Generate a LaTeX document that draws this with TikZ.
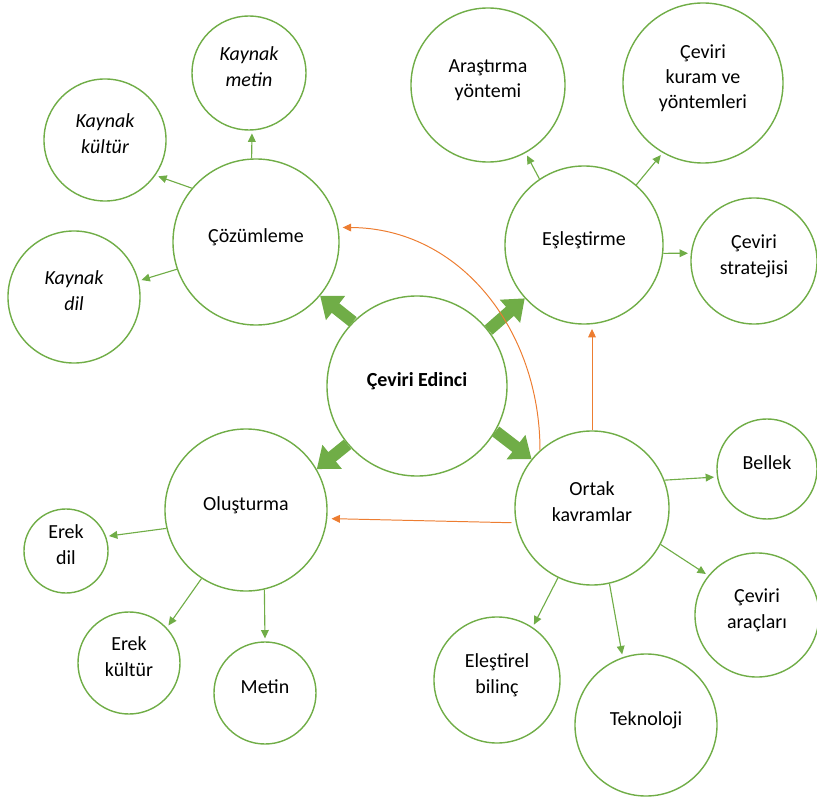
\documentclass[tikz,border=0pt]{standalone}
\usepackage{fontspec}
\setmainfont{Carlito}
\usetikzlibrary{arrows.meta}
\definecolor{grn}{HTML}{70AD47}
\definecolor{org}{HTML}{ED7D31}
\tikzset{
  bubble/.style={circle, draw=grn, line width=1pt, align=center, inner sep=0pt, text depth=9pt, font=\fontsize{14.2}{18}\selectfont},
  link/.style={draw=grn, line width=0.8pt, -{Triangle[length=6pt,width=5.5pt]}, shorten >=2pt},
  feedback/.style={draw=org, line width=0.7pt, -{Triangle[length=6pt,width=5.5pt]}, shorten >=3pt},
  push/.style={draw=grn, line width=8.6pt, -{Triangle[length=14pt,width=21pt]}}
}

\begin{document}
\begin{tikzpicture}[x=0.025cm, y=-0.025cm]
    \useasboundingbox (0,0) rectangle (817,801);
    \node (ed) [bubble, minimum size=4.5cm, font=\fontsize{14.2}{18}\selectfont\bfseries] at (417,386) {Çeviri Edinci};
    \node (coz) [bubble, minimum size=4.15cm] at (256,242) {Çözümleme};
    \node (kmetin) [bubble, minimum size=2.85cm, font=\fontsize{14.2}{18}\selectfont\itshape] at (249,73) {Kaynak\\metin};
    \node (kkultur) [bubble, minimum size=3.05cm, font=\fontsize{14.2}{18}\selectfont\itshape] at (105,140) {Kaynak\\kültür};
    \node (kdil) [bubble, minimum size=3.3cm, font=\fontsize{14.2}{18}\selectfont\itshape] at (74,297) {Kaynak\\dil};
    \node (esl) [bubble, minimum size=3.95cm] at (584,245) {Eşleştirme};
    \node (arastirma) [bubble, minimum size=3.85cm] at (488,85) {Araştırma\\yöntemi};
    \node (kuram) [bubble, minimum size=4cm] at (703,83) {Çeviri\\kuram ve\\yöntemleri};
    \node (strateji) [bubble, minimum size=3.15cm] at (754,261) {Çeviri\\stratejisi};
    \node (olus) [bubble, minimum size=4.05cm] at (246,510) {Oluşturma};
    \node (erekdil) [bubble, minimum size=2.1cm] at (66,551) {Erek\\dil};
    \node (erekkultur) [bubble, minimum size=2.55cm] at (129,663) {Erek\\kültür};
    \node (metin) [bubble, minimum size=2.55cm] at (265,693) {Metin};
    \node (ortak) [bubble, minimum size=3.85cm] at (592,508) {Ortak\\kavramlar};
    \node (bellek) [bubble, minimum size=2.5cm] at (767,469) {Bellek};
    \node (araclar) [bubble, minimum size=3.1cm] at (757,615) {Çeviri\\araçları};
    \node (elestirel) [bubble, minimum size=3.15cm] at (497,680) {Eleştirel\\bilinç};
    \node (teknoloji) [bubble, minimum size=3.55cm] at (646,725) {Teknoloji};

    \draw [push] (ed.135) -- (coz.-40);
    \draw [push] (ed.38) -- (esl.222);
    \draw [push] (ed.220) -- (olus.30);
    \draw [push] (ed.-30) -- (ortak.141);

    \draw [link] (coz.93) -- (kmetin.273);
    \draw [link] (coz.140) -- (kkultur.-35);
    \draw [link] (coz.199) -- (kdil.14);
    \draw [link] (esl.124) -- (arastirma.-61);
    \draw [link] (esl.49) -- (kuram.240);
    \draw [link] (esl.-6) -- (strateji.173);
    \draw [link] (olus.193) -- (erekdil.20);
    \draw [link] (olus.237) -- (erekkultur.43);
    \draw [link] (olus.283) -- (metin.90);
    \draw [link] (ortak.21) -- (bellek.189);
    \draw [link] (ortak.-28) -- (araclar.141);
    \draw [link] (ortak.244) -- (elestirel.56);
    \draw [link] (ortak.283) -- (teknoloji.109);

    \draw [feedback] (ortak.132) .. controls (540,330) and (460,228) .. (coz.10);
    \draw [feedback] (ortak.north) -- (ortak.north |- esl.south);
    \draw [feedback, shorten <=3pt] (ortak.191) -- (olus.-6);
\end{tikzpicture}
\end{document}
